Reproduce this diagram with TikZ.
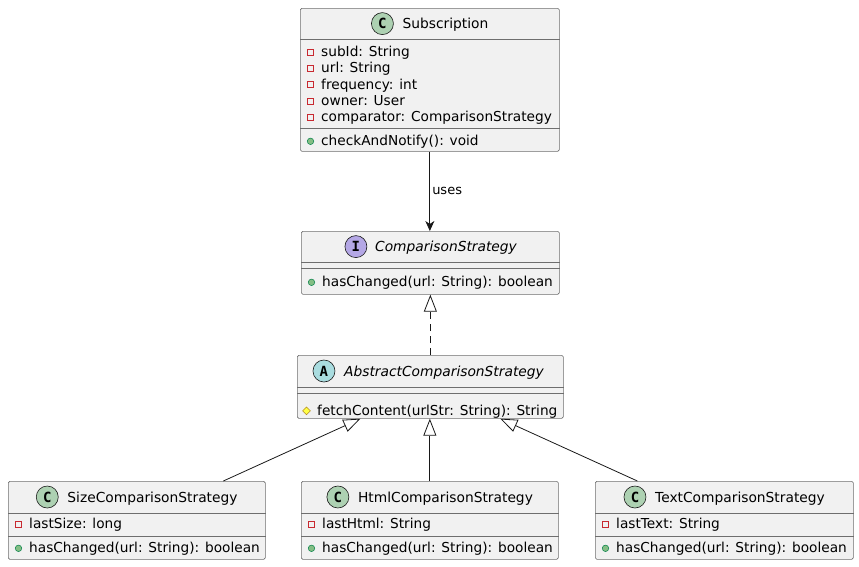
\documentclass[tikz,border=0pt]{standalone}
\usepackage{fontspec}
\setmainfont{DejaVu Sans}
\newfontfamily\iconfont{DejaVu Sans Mono}
\usetikzlibrary{arrows.meta,shapes.geometric}
\definecolor{boxfill}{HTML}{F1F1F1}
\definecolor{boxline}{HTML}{6E6E6E}
\definecolor{arrline}{HTML}{181818}
\definecolor{classC}{HTML}{ADD1B2}
\definecolor{classA}{HTML}{A9DCDF}
\definecolor{classI}{HTML}{B4A7E5}
\definecolor{privred}{HTML}{C82930}
\definecolor{pubfill}{HTML}{84BE84}
\definecolor{publine}{HTML}{038048}
\definecolor{protfill}{HTML}{FFFF44}
\definecolor{protline}{HTML}{B38D22}

\begin{document}
\begin{tikzpicture}[x=1pt,y=-1pt,
	box/.style={draw=boxline, fill=boxfill, line width=0.7pt, rounded corners=1.5pt, inner sep=0pt, anchor=north west},
	sep/.style={draw=boxline, line width=0.7pt},
	title/.style={anchor=base, inner sep=0pt, font=\fontsize{13.8}{16}\selectfont},
	member/.style={anchor=base west, inner sep=0pt, font=\fontsize{13.7}{16}\selectfont},
	icon/.style={circle, draw=arrline, line width=0.6pt, minimum size=22pt, inner sep=0pt, font=\iconfont\bfseries\fontsize{14}{14}\selectfont},
	priv/.style={draw=privred, line width=0.7pt, minimum size=6pt, inner sep=0pt},
	pub/.style={circle, draw=publine, fill=pubfill, line width=0.5pt, minimum size=6.5pt, inner sep=0pt},
	prot/.style={diamond, draw=protline, fill=protfill, line width=0.5pt, minimum size=8pt, inner sep=0pt},
	uses/.style={draw=arrline, line width=0.8pt, -{Stealth[length=10pt,width=9pt,inset=3pt]}},
	realize/.style={draw=arrline, line width=0.8pt, dash pattern=on 7pt off 5pt, -{Triangle[length=17pt,width=13pt,fill=white,sharp]}},
	extends/.style={draw=arrline, line width=0.8pt, -{Triangle[length=17pt,width=13pt,fill=white,sharp]}}
	]
	\useasboundingbox (0,0) rectangle (859,566);
	
	% Subscription
	\node[box, minimum width=259pt, minimum height=143pt] (sub) at (300,8) {};
	\draw[sep] ([yshift=-31pt]sub.north west) -- ([yshift=-31pt]sub.north east);
	\draw[sep] ([yshift=-120pt]sub.north west) -- ([yshift=-120pt]sub.north east);
	\node[title] (subname) at (445.5,28.6) {Subscription};
	\node[icon, fill=classC] (subicon) at ([xshift=-20pt,yshift=5pt]subname.base west) {C};
	\node[member] (sub1) at (321,56.5) {subId: String};
	\node[member] (sub2) at (321,72.8) {url: String};
	\node[member] (sub3) at (321,89) {frequency: int};
	\node[member] (sub4) at (321,105.3) {owner: User};
	\node[member] (sub5) at (321,121.6) {comparator: ComparisonStrategy};
	\node[member] (sub6) at (321,145.5) {checkAndNotify(): void};
	\node[priv] at (310.5,52.3) {};
	\node[priv] at (310.5,68.6) {};
	\node[priv] at (310.5,84.8) {};
	\node[priv] at (310.5,101.1) {};
	\node[priv] at (310.5,117.4) {};
	\node[pub] at (310.5,141.3) {};
	
	% ComparisonStrategy
	\node[box, minimum width=258pt, minimum height=63pt] (cmp) at (301,231) {};
	\draw[sep] ([yshift=-31pt]cmp.north west) -- ([yshift=-31pt]cmp.north east);
	\draw[sep] ([yshift=-37pt]cmp.north west) -- ([yshift=-37pt]cmp.north east);
	\node[title] (cmpname) at (446,251.6) {\itshape ComparisonStrategy};
	\node[icon, fill=classI] (cmpicon) at ([xshift=-19pt,yshift=5pt]cmpname.base west) {I};
	\node[member] (cmp1) at (322,286.5) {hasChanged(url: String): boolean};
	\node[pub] at (311.5,282.3) {};
	
	% AbstractComparisonStrategy
	\node[box, minimum width=266pt, minimum height=63pt] (abs) at (297,355) {};
	\draw[sep] ([yshift=-32pt]abs.north west) -- ([yshift=-32pt]abs.north east);
	\draw[sep] ([yshift=-38pt]abs.north west) -- ([yshift=-38pt]abs.north east);
	\node[title] (absname) at (444,376) {\itshape AbstractComparisonStrategy};
	\node[icon, fill=classA] (absicon) at ([xshift=-20pt,yshift=5pt]absname.base west) {A};
	\node[member] (abs1) at (317,415) {fetchContent(urlStr: String): String};
	\node[prot] at (306.5,410.8) {};
	
	% SizeComparisonStrategy
	\node[box, minimum width=257pt, minimum height=78pt] (size) at (8,481) {};
	\draw[sep] ([yshift=-32pt]size.north west) -- ([yshift=-32pt]size.north east);
	\draw[sep] ([yshift=-55pt]size.north west) -- ([yshift=-55pt]size.north east);
	\node[title] (sizename) at (152.5,502) {SizeComparisonStrategy};
	\node[icon, fill=classC] (sizeicon) at ([xshift=-20pt,yshift=5pt]sizename.base west) {C};
	\node[member] (size1) at (29,528.5) {lastSize: long};
	\node[member] (size2) at (29,552.5) {hasChanged(url: String): boolean};
	\node[priv] at (18.5,524.3) {};
	\node[pub] at (18.5,548.3) {};
	
	% HtmlComparisonStrategy
	\node[box, minimum width=257pt, minimum height=78pt] (html) at (301,481) {};
	\draw[sep] ([yshift=-32pt]html.north west) -- ([yshift=-32pt]html.north east);
	\draw[sep] ([yshift=-55pt]html.north west) -- ([yshift=-55pt]html.north east);
	\node[title] (htmlname) at (445.5,502) {HtmlComparisonStrategy};
	\node[icon, fill=classC] (htmlicon) at ([xshift=-20pt,yshift=5pt]htmlname.base west) {C};
	\node[member] (html1) at (322,528.5) {lastHtml: String};
	\node[member] (html2) at (322,552.5) {hasChanged(url: String): boolean};
	\node[priv] at (311.5,524.3) {};
	\node[pub] at (311.5,548.3) {};
	
	% TextComparisonStrategy
	\node[box, minimum width=258pt, minimum height=78pt] (text) at (595,481) {};
	\draw[sep] ([yshift=-32pt]text.north west) -- ([yshift=-32pt]text.north east);
	\draw[sep] ([yshift=-55pt]text.north west) -- ([yshift=-55pt]text.north east);
	\node[title] (textname) at (740,502) {TextComparisonStrategy};
	\node[icon, fill=classC] (texticon) at ([xshift=-20pt,yshift=5pt]textname.base west) {C};
	\node[member] (text1) at (616,528.5) {lastText: String};
	\node[member] (text2) at (616,552.5) {hasChanged(url: String): boolean};
	\node[priv] at (605.5,524.3) {};
	\node[pub] at (605.5,548.3) {};
	
	% relations
	\draw[uses] (sub.south) -- (sub.south |- cmp.north) node[midway, right, inner sep=2pt, font=\fontsize{13}{15}\selectfont] {uses};
	\draw[realize] (abs.north) -- (cmp.south);
	\draw[extends] ([xshift=86.5pt]size.north) -- ([xshift=-70pt]abs.south);
	\draw[extends] (html.north) -- (html.north |- abs.south);
	\draw[extends] ([xshift=-87pt]text.north) -- ([xshift=70pt]abs.south);
\end{tikzpicture}
\end{document}
